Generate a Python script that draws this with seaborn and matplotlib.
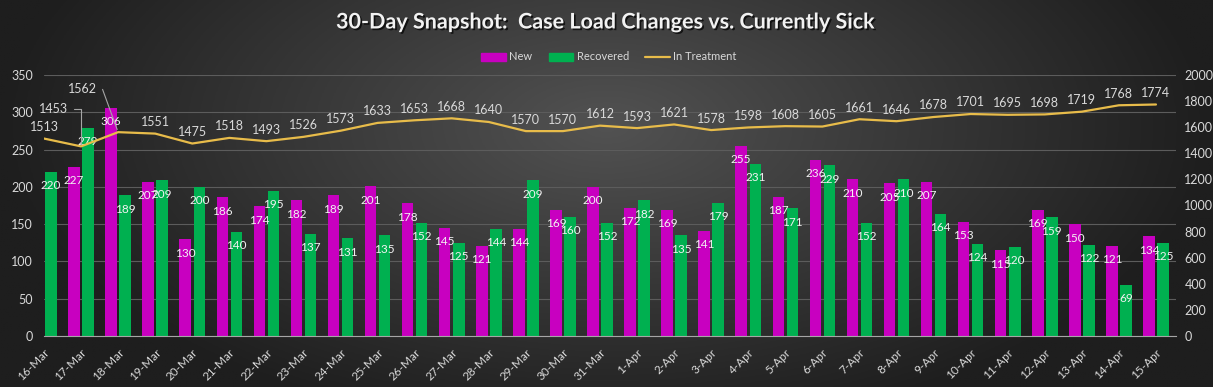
import numpy as np
import pandas as pd
import matplotlib.pyplot as plt
import matplotlib.patheffects as pe
from matplotlib.lines import Line2D
from matplotlib.patches import Patch
import seaborn as sns

# data
dates = ["16-Mar", "17-Mar", "18-Mar", "19-Mar", "20-Mar", "21-Mar", "22-Mar", "23-Mar",
         "24-Mar", "25-Mar", "26-Mar", "27-Mar", "28-Mar", "29-Mar", "30-Mar", "31-Mar",
         "1-Apr", "2-Apr", "3-Apr", "4-Apr", "5-Apr", "6-Apr", "7-Apr", "8-Apr",
         "9-Apr", "10-Apr", "11-Apr", "12-Apr", "13-Apr", "14-Apr", "15-Apr"]
new_cases = [np.nan, 227, 306, 207, 130, 186, 174, 182, 189, 201, 178, 145, 121, 144, 169,
             200, 172, 169, 141, 255, 187, 236, 210, 205, 207, 153, 115, 169, 150, 121, 134]
recovered = [220, 279, 189, 209, 200, 140, 195, 137, 131, 135, 152, 125, 144, 209, 160,
             152, 182, 135, 179, 231, 171, 229, 152, 210, 164, 124, 120, 159, 122, 69, 125]
in_treatment = [1513, 1453, 1562, 1551, 1475, 1518, 1493, 1526, 1573, 1633, 1653, 1668,
                1640, 1570, 1570, 1612, 1593, 1621, 1578, 1598, 1608, 1605, 1661, 1646,
                1678, 1701, 1695, 1698, 1719, 1768, 1774]

NEW_C = "#C800C0"
REC_C = "#00B050"
LINE_C = "#E8BC4A"
TXT = "#D9D9D9"

sns.set_style("white")
plt.rcParams["font.family"] = ["Lato", "DejaVu Sans"]

df = pd.DataFrame({"Date": dates, "New": new_cases, "Recovered": recovered})
long_df = df.melt(id_vars="Date", var_name="Series", value_name="Count")

fig = plt.figure(figsize=(12.13, 3.87), dpi=100)

# dark radial background
bg = fig.add_axes([0, 0, 1, 1], zorder=-10)
gx, gy = np.meshgrid(np.linspace(-1, 1, 400), np.linspace(-1, 1, 200))
r = np.sqrt((gx / 1.0) ** 2 + ((gy + 0.35) / 1.6) ** 2)
r = np.clip(r, 0, 1)
c0 = np.array([0x52, 0x52, 0x52]) / 255
c1 = np.array([0x1E, 0x1E, 0x1E]) / 255
img = c0[None, None, :] * (1 - r[..., None]) + c1[None, None, :] * r[..., None]
bg.imshow(img, aspect="auto", extent=[0, 1, 0, 1], origin="upper")
bg.axis("off")

ax = fig.add_axes([44 / 1213, 1 - 336 / 387, (1176 - 44) / 1213, (336 - 75) / 387])
ax.set_facecolor("none")

sns.barplot(data=long_df, x="Date", y="Count", hue="Series",
            palette=[NEW_C, REC_C], saturation=1, width=0.76, gap=0.18,
            linewidth=0, edgecolor="none", legend=False, ax=ax)

for cont in ax.containers:
    ax.bar_label(cont, fmt="{:.0f}", padding=-14, color="#F2F2F2", fontsize=8.5)

ax.set_ylim(0, 350)
ax.set_yticks(range(0, 351, 50))
ax.set_xlim(0, 30.54)
ax.set_xlabel("")
ax.set_ylabel("")
ax.grid(axis="y", color="#5C5C5C", linewidth=0.8)
ax.set_axisbelow(True)
for s in ["top", "left", "right"]:
    ax.spines[s].set_visible(False)
ax.spines["bottom"].set_color("#A6A6A6")
ax.tick_params(axis="y", length=0, pad=8, labelsize=9, labelcolor=TXT)
ax.tick_params(axis="x", length=5, width=0.8, color="#A6A6A6", pad=3, labelsize=8.5, labelcolor=TXT)
plt.setp(ax.get_xticklabels(), rotation=45, ha="right", rotation_mode="anchor")

# in-treatment line on right axis
ax2 = ax.twinx()
xs = np.arange(len(dates))
sns.lineplot(x=xs, y=in_treatment, color=LINE_C, linewidth=1.6, ax=ax2)
ax2.set_ylim(0, 2000)
ax2.set_yticks(range(0, 2001, 200))
for s in ["top", "left", "right", "bottom"]:
    ax2.spines[s].set_visible(False)
ax2.tick_params(axis="y", length=0, pad=6, labelsize=9, labelcolor=TXT)
ax2.set_xlim(0, 30.54)

for i, v in enumerate(in_treatment):
    if i == 1:
        ax2.annotate(str(v), xy=(i, v), xytext=(-20, 27), textcoords="offset points",
                     ha="center", va="center", color=TXT, fontsize=9,
                     arrowprops=dict(arrowstyle="-", color="#A6A6A6", lw=0.8,
                                     connectionstyle="angle,angleA=0,angleB=90,rad=0"))
    elif i == 2:
        ax2.annotate(str(v), xy=(i, v), xytext=(-26, 31), textcoords="offset points",
                     ha="center", va="center", color=TXT, fontsize=9,
                     arrowprops=dict(arrowstyle="-", color="#A6A6A6", lw=0.8,
                                     connectionstyle="angle,angleA=0,angleB=110,rad=0"))
    else:
        ax2.annotate(str(v), xy=(i, v), xytext=(0, 4), textcoords="offset points",
                     ha="center", va="bottom", color=TXT, fontsize=9)

# legend
handles = [Patch(color=NEW_C, label="New"),
           Patch(color=REC_C, label="Recovered"),
           Line2D([0], [0], color=LINE_C, lw=1.6, label="In Treatment")]
leg = fig.legend(handles=handles, loc="center", bbox_to_anchor=(0.502, 1 - 57 / 387),
                 ncol=3, frameon=False, fontsize=8, labelcolor=TXT,
                 handlelength=2.2, handleheight=0.7, columnspacing=1.5, handletextpad=0.3)

fig.text(0.499, 1 - 22 / 387, "30-Day Snapshot:  Case Load Changes vs. Currently Sick",
         ha="center", va="center", fontsize=15.5, fontweight="bold", color="#F2F2F2",
         path_effects=[pe.withSimplePatchShadow(offset=(1.2, -1.2), shadow_rgbFace="black", alpha=0.7)])

fig.savefig("out.png", dpi=100)
